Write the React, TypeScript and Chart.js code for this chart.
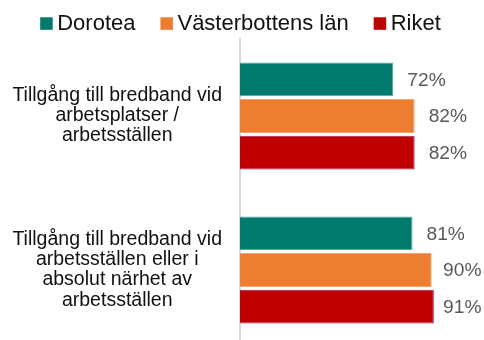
import React, { useEffect, useRef } from "react";
import { Chart, registerables } from "chart.js";

Chart.register(...registerables);

const categories: string[][] = [
  ["Tillgång till bredband vid", "arbetsplatser /", "arbetsställen"],
  ["Tillgång till bredband vid", "arbetsställen eller i", "absolut närhet av", "arbetsställen"],
];

const seriesNames = ["Dorotea", "Västerbottens län", "Riket"];
const dorotea = [72, 81];
const vasterbotten = [82, 90];
const riket = [82, 91];

const fillColors = ["#007A6C", "#ED7D31", "#C00000"];
const borderColors = ["#5BA79D", "#F3A46F", "#A3205A"];

const FONT = '"Liberation Sans", Arial, sans-serif';
const W = 484;
const H = 348;

const legendPlugin = {
  id: "topLegend",
  afterDraw(chart: any) {
    const ctx = chart.ctx;
    ctx.save();
    ctx.font = `22px ${FONT}`;
    const box = 12.5;
    const gapText = 4.5;
    const gapItem = 25;
    const widths = seriesNames.map((n) => ctx.measureText(n).width);
    const total =
      widths.reduce((a, b) => a + b, 0) + seriesNames.length * (box + gapText) + gapItem * (seriesNames.length - 1);
    let x = 240.5 - total / 2;
    const baseline = 29.5;
    seriesNames.forEach((name, i) => {
      ctx.fillStyle = fillColors[i];
      ctx.fillRect(x, baseline - box + 0.3, box, box);
      x += box + gapText;
      ctx.fillStyle = "#111111";
      ctx.textBaseline = "alphabetic";
      ctx.textAlign = "left";
      ctx.fillText(name, x, baseline);
      x += widths[i] + gapItem;
    });
    ctx.restore();
  },
};

const valueLabelPlugin = {
  id: "valueLabels",
  afterDatasetsDraw(chart: any) {
    const ctx = chart.ctx;
    ctx.save();
    ctx.font = `19.2px ${FONT}`;
    ctx.fillStyle = "#595959";
    ctx.textBaseline = "middle";
    ctx.textAlign = "left";
    chart.data.datasets.forEach((ds: any, di: number) => {
      const meta = chart.getDatasetMeta(di);
      meta.data.forEach((el: any, i: number) => {
        const text = `${ds.data[i]}%`;
        const w = ctx.measureText(text).width;
        const x = Math.min(el.x + 14, W - w - 2.5);
        ctx.fillText(text, x, el.y + 1);
      });
    });
    ctx.restore();
  },
};

export default function App() {
  const ref = useRef<HTMLCanvasElement | null>(null);

  useEffect(() => {
    if (!ref.current) return;
    const chart = new Chart(ref.current, {
      type: "bar",
      data: {
        labels: categories,
        datasets: [dorotea, vasterbotten, riket].map((data, i) => ({
          label: seriesNames[i],
          data,
          backgroundColor: fillColors[i],
          borderColor: borderColors[i],
          borderWidth: 1,
          categoryPercentage: 0.714,
          barPercentage: 0.926,
        })),
      },
      options: {
        indexAxis: "y",
        animation: false,
        responsive: false,
        maintainAspectRatio: false,
        layout: { padding: { top: 39, right: 31, bottom: 1, left: 0 } },
        plugins: {
          legend: { display: false },
          tooltip: { enabled: false },
        },
        scales: {
          x: { display: false, min: 0, max: 100 },
          y: {
            grid: { display: false, drawTicks: false },
            border: { display: true, color: "#D9D9D9", width: 2 },
            ticks: {
              crossAlign: "center",
              padding: 18,
              color: "#111111",
              font: { family: FONT, size: 19.5, lineHeight: 1.03 },
            },
            afterFit(scale: any) {
              // fixed label column; the multi-line labels sit inside their bands
              scale.width = 240;
              scale.paddingTop = 0;
              scale.paddingBottom = 0;
            },
          },
        },
      },
      plugins: [legendPlugin, valueLabelPlugin],
    });
    return () => chart.destroy();
  }, []);

  return (
    <div style={{ position: "fixed", left: 0, top: 0, width: W, height: H, background: "#fff", overflow: "hidden" }}>
      <canvas ref={ref} width={W} height={H} style={{ display: "block" }} />
    </div>
  );
}
